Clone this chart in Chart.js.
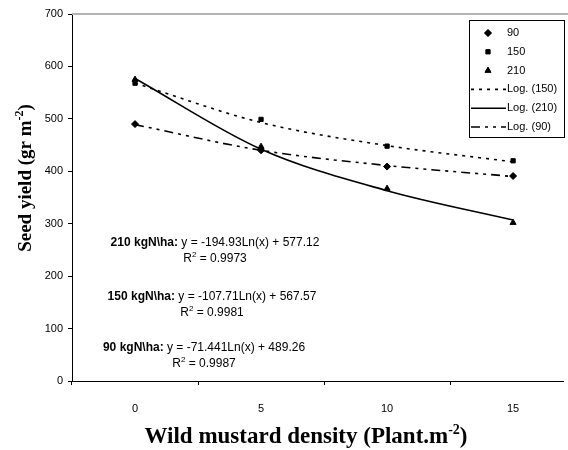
<!DOCTYPE html>
<html lang="en">

<head>
  <meta charset="UTF-8">
  <script src="https://cdn.jsdelivr.net/npm/chart.js"></script>
  <title>Seed yield</title>
  <style>
    body {
      margin: 0;
      background: #fff;
    }
  </style>
</head>

<body>
  <canvas id="myChart" width="568" height="450"></canvas>

  <script>
    // wild mustard density (plant/m2)
    const categories = [0, 5, 10, 15];
    // observed seed yield, per N rate
    const yield90 = [490, 440, 409, 391];
    const yield150 = [568, 499, 448, 420];
    const yield210 = [575, 447, 367, 302];
    // log trend lines
    const trend90 = [489, 440, 411, 390];
    const trend150 = [568, 493, 449, 418];
    const trend210 = [577, 442, 363, 307];
    const yTicks = [0, 100, 200, 300, 400, 500, 600, 700];

    const equations = [
      { label: '210 kgN\\ha:', eq: ' y = -194.93Ln(x) + 577.12', r2: ' = 0.9973', cx: 215, y: 243 },
      { label: '150 kgN\\ha:', eq: ' y = -107.71Ln(x) + 567.57', r2: ' = 0.9981', cx: 212, y: 297 },
      { label: '90 kgN\\ha:', eq: ' y = -71.441Ln(x) + 489.26', r2: ' = 0.9987', cx: 204, y: 348 },
    ];

    const pts = arr => arr.map((v, i) => ({ x: categories[i], y: v }));

    function markerSet(label, data, style) {
      return {
        label: label,
        data: pts(data),
        showLine: false,
        pointStyle: style,
        pointRadius: style === 'rect' ? 3 : 3.5,
        pointBackgroundColor: '#000',
        pointBorderColor: '#000',
        borderColor: '#000',
        backgroundColor: '#000',
      };
    }

    function trendSet(label, data, dash) {
      return {
        label: label,
        data: pts(data),
        showLine: true,
        pointRadius: 0,
        borderColor: '#000',
        borderWidth: 1.6,
        borderDash: dash,
        cubicInterpolationMode: 'monotone',
      };
    }

    const datasets = [
      markerSet('90', yield90, 'rectRot'),
      markerSet('150', yield150, 'rect'),
      markerSet('210', yield210, 'triangle'),
      trendSet('Log. (150)', trend150, [3, 5]),
      trendSet('Log. (210)', trend210, []),
      trendSet('Log. (90)', trend90, [9, 5, 3, 5, 3, 5]),
    ];

    function drawSupText(ctx, parts, x, y, align) {
      // parts: [text, font, raise]
      let total = 0;
      parts.forEach(p => { ctx.font = p[1]; total += ctx.measureText(p[0]).width; });
      let cx = align === 'center' ? x - total / 2 : x;
      ctx.textAlign = 'left';
      parts.forEach(p => {
        ctx.font = p[1];
        ctx.fillText(p[0], cx, y - (p[2] || 0));
        cx += ctx.measureText(p[0]).width;
      });
    }

    const extras = {
      id: 'extras',
      afterDraw(chart) {
        const ctx = chart.ctx;
        const area = chart.chartArea;
        ctx.save();

        // grey top border of plot area
        ctx.strokeStyle = '#b4b4b4';
        ctx.lineWidth = 2;
        ctx.beginPath();
        ctx.moveTo(area.left, area.top);
        ctx.lineTo(568, area.top);
        ctx.stroke();

        ctx.fillStyle = '#000';
        ctx.textBaseline = 'middle';

        // equations
        const reg = '12px "Liberation Sans", Arial, sans-serif';
        const bold = 'bold 12px "Liberation Sans", Arial, sans-serif';
        const sup = '8px "Liberation Sans", Arial, sans-serif';
        equations.forEach(e => {
          drawSupText(ctx, [[e.label, bold], [e.eq, reg]], e.cx, e.y, 'center');
          drawSupText(ctx, [['R', reg], ['2', sup, 4], [e.r2, reg]], e.cx, e.y + 16, 'center');
        });

        // axis titles
        const tfont = 'bold 23px "Liberation Serif", "Times New Roman", serif';
        const tsup = 'bold 14px "Liberation Serif", "Times New Roman", serif';
        ctx.textBaseline = 'alphabetic';
        drawSupText(ctx, [['Wild mustard density (Plant.m', tfont], ['-2', tsup, 9], [')', tfont]], 306, 443, 'center');

        ctx.save();
        ctx.translate(31, 178);
        ctx.rotate(-Math.PI / 2);
        const yfont = 'bold 19px "Liberation Serif", "Times New Roman", serif';
        const ysup = 'bold 12px "Liberation Serif", "Times New Roman", serif';
        drawSupText(ctx, [['Seed yield (gr m', yfont], ['-2', ysup, 8], [')', yfont]], 0, 0, 'center');
        ctx.restore();

        // legend box
        const lx = 469, ly = 20, lw = 95, lh = 117;
        ctx.fillStyle = '#fff';
        ctx.fillRect(lx, ly, lw, lh);
        ctx.strokeStyle = '#000';
        ctx.lineWidth = 1;
        ctx.strokeRect(lx + 0.5, ly + 0.5, lw, lh);
        ctx.fillStyle = '#000';
        ctx.textBaseline = 'middle';
        ctx.font = '11px "Liberation Sans", Arial, sans-serif';
        chart.data.datasets.forEach((ds, i) => {
          const y = 33 + i * 18.8;
          if (ds.showLine) {
            ctx.save();
            ctx.strokeStyle = '#000';
            ctx.lineWidth = 1.6;
            ctx.setLineDash(ds.borderDash);
            ctx.beginPath();
            ctx.moveTo(lx + 2, y);
            ctx.lineTo(lx + 37, y);
            ctx.stroke();
            ctx.restore();
          } else {
            Chart.helpers.drawPoint(ctx, {
              pointStyle: ds.pointStyle,
              radius: ds.pointRadius,
              borderWidth: 1,
            }, lx + 19, y);
            ctx.fill();
          }
          ctx.textAlign = 'left';
          ctx.fillText(ds.label, lx + 38, y);
        });

        ctx.restore();
      }
    };

    const ctx = document.getElementById('myChart').getContext('2d');
    const myChart = new Chart(ctx, {
      type: 'scatter',
      data: { datasets: datasets },
      plugins: [extras],
      options: {
        responsive: false,
        animation: false,
        layout: { padding: { top: 14, right: 0, left: 0, bottom: 0 } },
        plugins: {
          legend: { display: false },
          tooltip: { enabled: false },
        },
        scales: {
          x: {
            type: 'linear',
            min: -2.5,
            max: 16.98,
            afterBuildTicks: scale => {
              scale.ticks = categories.map(v => ({ value: v }));
            },
            afterFit: scale => { scale.height = 69; },
            grid: {
              offset: true,
              drawOnChartArea: false,
              drawTicks: true,
              tickLength: 4,
              color: '#000',
            },
            border: { display: true, color: '#000', width: 1 },
            ticks: {
              color: '#000',
              padding: 17,
              maxRotation: 0,
              autoSkip: false,
              font: { family: '"Liberation Sans", Arial, sans-serif', size: 11 },
            },
          },
          y: {
            min: 0,
            max: 700,
            afterBuildTicks: scale => {
              scale.ticks = yTicks.map(v => ({ value: v }));
            },
            afterFit: scale => { scale.width = 72; },
            grid: {
              drawOnChartArea: false,
              drawTicks: true,
              tickLength: 4,
              color: '#000',
            },
            border: { display: true, color: '#000', width: 1 },
            ticks: {
              color: '#000',
              padding: 5,
              font: { family: '"Liberation Sans", Arial, sans-serif', size: 11 },
            },
          },
        },
      },
    });
  </script>
</body>

</html>
